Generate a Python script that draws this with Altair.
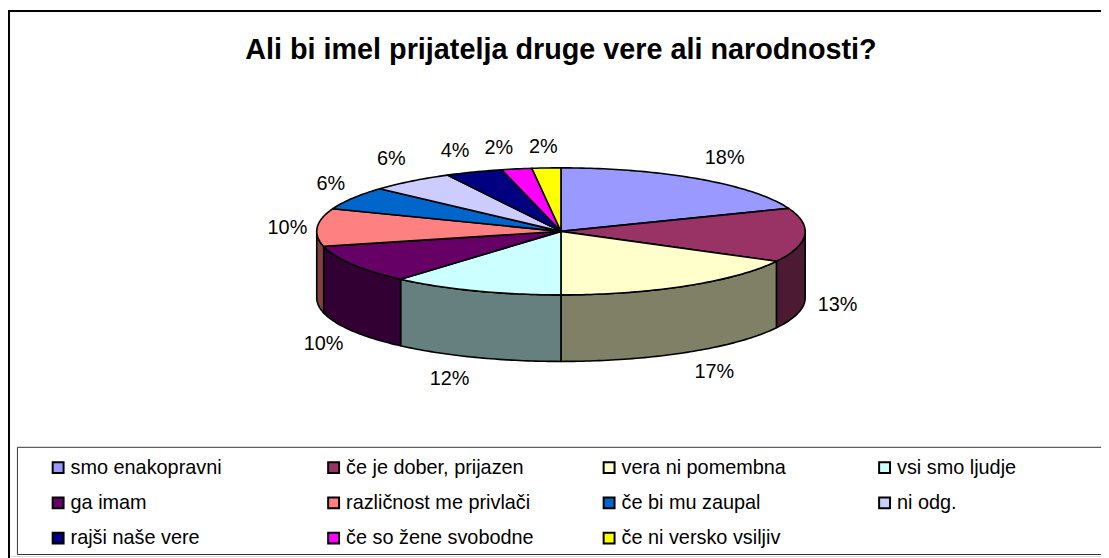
import math
import altair as alt

title_text = "Ali bi imel prijatelja druge vere ali narodnosti?"
names = ["smo enakopravni", "če je dober, prijazen", "vera ni pomembna", "vsi smo ljudje",
         "ga imam", "različnost me privlači", "če bi mu zaupal", "ni odg.",
         "rajši naše vere", "če so žene svobodne", "če ni versko vsiljiv"]
# shares as they appear on the drawn pie
shares = [19.1, 13.7, 17.2, 11.4, 9.8, 9.6, 5.9, 5.6, 3.8, 2.0, 1.9]
labels = ["18%", "13%", "17%", "12%", "10%", "10%", "6%", "6%", "4%", "2%", "2%"]
top_colors = ["#9999FF", "#993366", "#FFFFCC", "#CCFFFF", "#660066", "#FF8080",
              "#0066CC", "#CCCCFF", "#000080", "#FF00FF", "#FFFF00"]
wall_colors = ["#4D4D80", "#4D1A33", "#808066", "#668080", "#330033", "#804040",
               "#003366", "#666680", "#000040", "#800080", "#808000"]
# outward label nudges (styling), in pixels
nudge_x = [26, 33, 28, -26, -29, -30, -22, -20, -19, -18, -3]
nudge_y = [-21, 70, 20, 22, 13, 1, -14, -22, -21, -21, -21]

W, H = 1101, 550
CX, CY = 565 - 8, 231 - 8
RX, RY, DEPTH = 246, 64, 67


def rim(deg, drop=0.0):
    a = math.radians(deg)
    return [RX * math.sin(a), RY * math.cos(a) - drop]


def arc(a0, a1, drop=0.0):
    n = max(2, int(abs(a1 - a0)) + 1)
    return [rim(a0 + (a1 - a0) * i / n, drop) for i in range(n + 1)]


tops, walls, texts = [], [], []
cum = 0.0
for i, (name, share) in enumerate(zip(names, shares)):
    a0 = cum * 3.6
    cum += share
    a1 = cum * 3.6
    ring = [[0.0, 0.0]] + arc(a0, a1) + [[0.0, 0.0]]
    tops.append({"type": "Feature", "properties": {"name": name},
                 "geometry": {"type": "Polygon", "coordinates": [ring]}})
    w0, w1 = max(a0, 90.0), min(a1, 270.0)
    if w1 > w0:
        ring = arc(w0, w1) + arc(w1, w0, DEPTH)
        ring.append(ring[0])
        walls.append({"type": "Feature", "properties": {"color": wall_colors[i]},
                      "geometry": {"type": "Polygon", "coordinates": [ring]}})
    mid = (a0 + a1) / 2
    drop = DEPTH if 120 < mid < 270 else 0
    p = rim(mid, drop)
    texts.append({"lab": labels[i], "lon": p[0] + nudge_x[i], "lat": p[1] - nudge_y[i]})

proj = dict(type="identity", reflectY=True, scale=1, translate=[CX, CY])
FONT = "Liberation Sans"

wall_layer = alt.Chart(alt.Data(values=walls)).mark_geoshape(
    stroke="black", strokeWidth=1.6, strokeJoin="round"
).encode(fill=alt.Fill("properties.color:N", scale=None, legend=None)).project(**proj)

top_layer = alt.Chart(alt.Data(values=tops)).mark_geoshape(
    stroke="black", strokeWidth=1.6, strokeJoin="round"
).encode(
    fill=alt.Fill(
        "properties.name:N",
        scale=alt.Scale(domain=names, range=top_colors),
        sort=None,
        legend=alt.Legend(
            title=None, orient="none", direction="horizontal", legendX=40.5, legendY=451, columns=4,
            gridAlign="all", columnPadding=65.5, rowPadding=15.5, padding=0,
            symbolType="square", symbolSize=121, symbolStrokeColor="black",
            symbolStrokeWidth=2, labelFont=FONT, labelFontSize=20,
            labelColor="black", labelLimit=300, labelOffset=2.5,
        ),
    )
).project(**proj)

text_layer = alt.Chart(alt.Data(values=texts)).mark_text(
    font=FONT, fontSize=20, color="black", align="center", baseline="middle"
).encode(longitude="lon:Q", latitude="lat:Q", text="lab:N").project(**proj)

one = alt.Data(values=[{"a": 1}])
title_layer = alt.Chart(alt.Data(values=[{"t": title_text}])).mark_text(
    font=FONT, fontSize=29, fontWeight="bold", color="black", align="center", baseline="alphabetic"
).encode(x=alt.value(CX), y=alt.value(49), text="t:N")
box_layer = alt.Chart(one).mark_rect(
    fill="white", stroke="#333333", strokeWidth=1
).encode(x=alt.value(9.5), x2=alt.value(1110), y=alt.value(440.5), y2=alt.value(548.5))
frame_layer = alt.Chart(one).mark_rect(
    fill="transparent", stroke="black", strokeWidth=2
).encode(x=alt.value(1), x2=alt.value(1110), y=alt.value(1), y2=alt.value(600))

chart = alt.layer(frame_layer, box_layer, title_layer, wall_layer, top_layer, text_layer).resolve_scale(fill="independent").properties(
    width=W, height=H, padding=0,
    autosize=alt.AutoSizeParams(type="none"),
).configure_view(stroke=None, fill="white").configure(background="white")

chart.save("out.html", embed_options={"renderer": "svg", "actions": False})
